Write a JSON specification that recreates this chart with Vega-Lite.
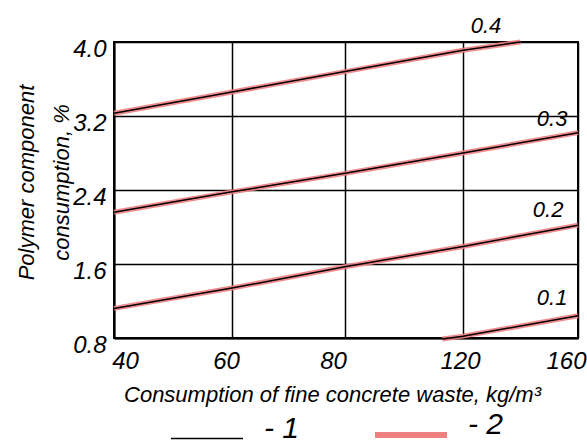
{
  "$schema": "https://vega.github.io/schema/vega-lite/v6.json",
  "width": 464,
  "height": 296,
  "autosize": {"type": "none"},
  "padding": {"left": 114, "top": 42, "right": 9, "bottom": 105},
  "background": "white",
  "config": {
    "font": "Liberation Sans",
    "view": {"stroke": "black", "strokeWidth": 2},
    "axis": {
      "grid": true,
      "gridColor": "black",
      "gridOpacity": 1,
      "gridWidth": 1.5,
      "domainColor": "black",
      "domainWidth": 2,
      "ticks": false,
      "labelFont": "Liberation Sans",
      "labelFontStyle": "italic",
      "labelFontSize": 24,
      "labelColor": "black",
      "titleFont": "Liberation Sans",
      "titleFontStyle": "italic",
      "titleFontWeight": "normal",
      "titleFontSize": 22,
      "titleColor": "black"
    }
  },
  "datasets": {
    "curves": [
      {"curve": "0.4", "x": 40, "y": 3.23},
      {"curve": "0.4", "x": 60, "y": 3.46},
      {"curve": "0.4", "x": 80, "y": 3.68},
      {"curve": "0.4", "x": 120, "y": 3.91},
      {"curve": "0.4", "x": 140, "y": 4.0},
      {"curve": "0.3", "x": 40, "y": 2.16},
      {"curve": "0.3", "x": 60, "y": 2.38},
      {"curve": "0.3", "x": 80, "y": 2.58},
      {"curve": "0.3", "x": 120, "y": 2.8},
      {"curve": "0.3", "x": 160, "y": 3.02},
      {"curve": "0.2", "x": 40, "y": 1.12},
      {"curve": "0.2", "x": 60, "y": 1.34},
      {"curve": "0.2", "x": 80, "y": 1.57},
      {"curve": "0.2", "x": 120, "y": 1.79},
      {"curve": "0.2", "x": 160, "y": 2.02},
      {"curve": "0.1", "x": 113, "y": 0.79},
      {"curve": "0.1", "x": 120, "y": 0.82},
      {"curve": "0.1", "x": 160, "y": 1.04}
    ],
    "labels": [
      {"label": "0.4", "x": 128, "y": 4.17},
      {"label": "0.3", "x": 151, "y": 3.17},
      {"label": "0.2", "x": 149.6, "y": 2.18},
      {"label": "0.1", "x": 151, "y": 1.23}
    ]
  },
  "encoding": {
    "x": {
      "field": "x",
      "type": "quantitative",
      "scale": {"type": "linear", "domain": [40, 60, 80, 120, 160], "range": [0, 118, 231, 349, 464]},
      "axis": {
        "values": [40, 60, 80, 120, 160],
        "format": "d",
        "labelPadding": 11,
        "labelAlign": "center",
        "labelOffset": {"expr": "datum.value == 40 ? 11 : datum.value == 60 ? -6 : datum.value == 80 ? -12 : datum.value == 120 ? -3 : -12"},
        "title": "Consumption of fine concrete waste, kg/m³",
        "titleX": 218,
        "titleY": 63,
        "titleAlign": "center",
        "titleBaseline": "alphabetic"
      }
    },
    "y": {
      "field": "y",
      "type": "quantitative",
      "scale": {"domain": [0.8, 4.0], "nice": false, "zero": false},
      "axis": {
        "values": [0.8, 1.6, 2.4, 3.2, 4.0],
        "format": ".1f",
        "labelPadding": 8,
        "labelOffset": 7,
        "labelBaseline": "middle",
        "title": ["Polymer component", "consumption, %"],
        "titleX": -81,
        "titleY": 140,
        "titleAngle": -90,
        "titleAlign": "center",
        "titleBaseline": "alphabetic",
        "titleLineHeight": 35
      }
    }
  },
  "layer": [
    {
      "data": {"name": "curves"},
      "mark": {"type": "line", "strokeWidth": 5, "opacity": 0.9},
      "encoding": {
        "detail": {"field": "curve", "type": "nominal"},
        "color": {
          "datum": "2",
          "type": "nominal",
          "scale": {"domain": ["1", "2"], "range": ["black", "#f08080"]},
          "legend": {
            "orient": "none",
            "legendX": 78,
            "legendY": 378,
            "direction": "horizontal",
            "title": null,
            "symbolType": "stroke",
            "symbolSize": 5184,
            "symbolOpacity": 1,
            "symbolStrokeWidth": {"expr": "(datum && datum.value) === '2' ? 6 : 1.5"},
            "labelFontSize": 30,
            "labelFontStyle": "italic",
            "labelFont": "Liberation Sans",
            "labelColor": "black",
            "labelOffset": 42,
            "columnPadding": 63,
            "padding": 0,
            "labelExpr": "'- ' + datum.label",
            "encode": {"labels": {"update": {"dy": {"value": -10}}}}
          }
        }
      }
    },
    {
      "data": {"name": "curves"},
      "mark": {"type": "line", "strokeWidth": 1.5},
      "encoding": {
        "detail": {"field": "curve", "type": "nominal"},
        "color": {"datum": "1", "type": "nominal"}
      }
    },
    {
      "data": {"name": "labels"},
      "mark": {"type": "text", "fontStyle": "italic", "fontSize": 22, "color": "black", "font": "Liberation Sans"},
      "encoding": {
        "text": {"field": "label", "type": "nominal"}
      }
    }
  ]
}
